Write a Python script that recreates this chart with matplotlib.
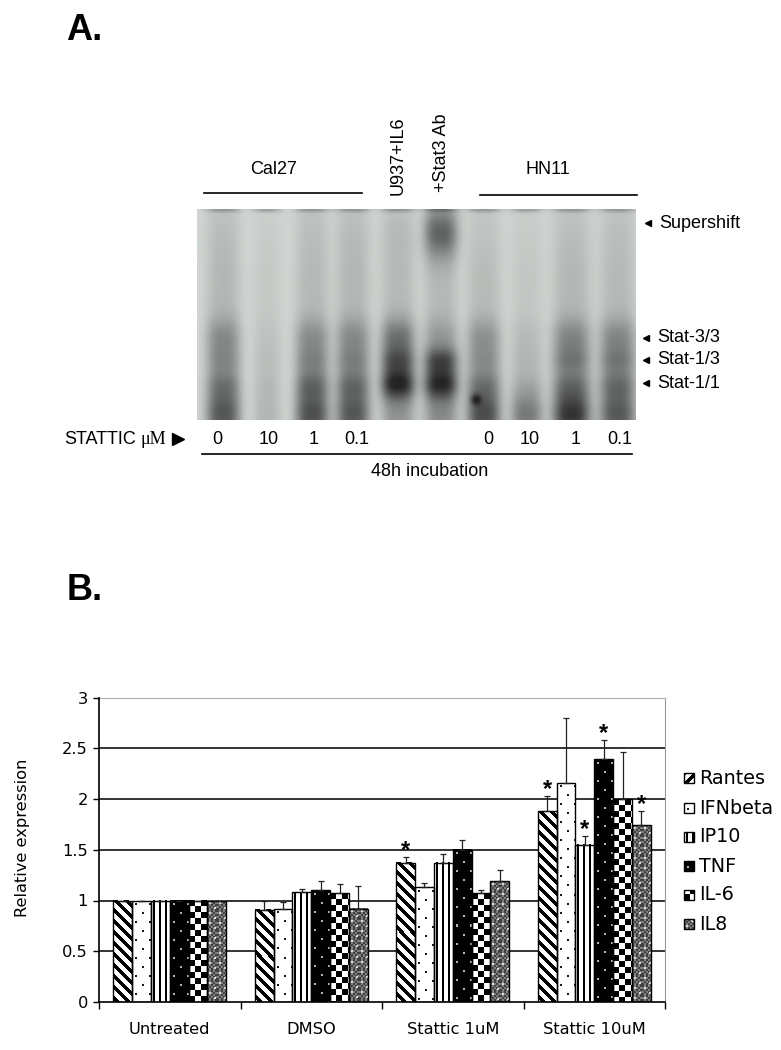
import numpy as np
import matplotlib
matplotlib.use("Agg")
import matplotlib.pyplot as plt
from matplotlib.patches import Rectangle

W, H = 781, 1050

# bar chart values
groups = ["Untreated", "DMSO", "Stattic 1uM", "Stattic 10uM"]
genes = ["Rantes", "IFNbeta", "IP10", "TNF", "IL-6", "IL8"]
rantes = [1.0, 0.91, 1.37, 1.88]
ifnbeta = [1.0, 0.92, 1.13, 2.16]
ip10 = [1.0, 1.08, 1.37, 1.55]
tnf = [1.0, 1.10, 1.50, 2.39]
il6 = [1.0, 1.07, 1.07, 2.00]
il8 = [1.0, 0.92, 1.19, 1.74]
rantes_err = [0, 0.09, 0.06, 0.15]
ifnbeta_err = [0, 0.07, 0.04, 0.64]
ip10_err = [0, 0.03, 0.09, 0.09]
tnf_err = [0, 0.09, 0.10, 0.19]
il6_err = [0, 0.09, 0.03, 0.46]
il8_err = [0, 0.22, 0.11, 0.14]
# (gene index, group index) of the bars with an asterisk
stars = [(0, 2), (0, 3), (2, 3), (3, 3), (5, 3)]

# gel lanes: strength of each band, per lane
lane_x = [223, 267, 312, 353, 398, 441, 484, 527, 572, 618]
lane_w = [17, 14, 17, 17, 17, 17, 17, 16, 19, 18]
band_y = [338, 360, 383, 414]
band_h = [20, 13, 16, 24]
stat33 = [0.30, 0.05, 0.30, 0.30, 0.48, 0.22, 0.28, 0.08, 0.34, 0.34]
stat13 = [0.20, 0.05, 0.24, 0.24, 0.50, 0.62, 0.20, 0.08, 0.30, 0.30]
stat11 = [0.34, 0.08, 0.42, 0.40, 0.95, 0.90, 0.36, 0.12, 0.36, 0.40]
bottom = [0.62, 0.12, 0.68, 0.62, 0.24, 0.30, 0.72, 0.50, 0.85, 0.62]
smear = [0.13, 0.05, 0.12, 0.13, 0.12, 0.12, 0.11, 0.06, 0.13, 0.12]
shift = [0.02, 0.00, 0.02, 0.03, 0.05, 0.62, 0.00, 0.00, 0.01, 0.02]

# gel text
dose_labels = ["0", "10", "1", "0.1", "0", "10", "1", "0.1"]
dose_x = [217, 268.5, 314, 357, 488.5, 530, 576, 620]
band_names = ["Supershift", "Stat-3/3", "Stat-1/3", "Stat-1/1"]
band_label_y = [223, 338, 360, 383]
band_label_x = [659, 657, 657, 657]


def tile_for(name):
    """Одна ячейка штриховки (серый 0..1), размер в пикселях."""
    if name == "Rantes":
        y, x = np.mgrid[0:11, 0:11]
        return np.where((x - y) % 11 < 5, 0.0, 1.0)
    if name == "IFNbeta":
        t = np.ones((18, 14))
        t[3:5, 3:5] = 0.1
        t[12:14, 10:12] = 0.1
        return t
    if name == "IP10":
        t = np.ones((6, 6))
        t[:, 2:4] = 0.0
        return t
    if name == "TNF":
        t = np.zeros((18, 14))
        t[3:5, 3:5] = 0.7
        t[12:14, 10:12] = 0.7
        return t
    if name == "IL-6":
        y, x = np.mgrid[0:12, 0:12]
        return np.where((x // 6 + y // 6) % 2 == 0, 0.0, 1.0)
    # IL8
    y, x = np.mgrid[0:10, 0:10]
    t = np.where((x // 2 + y // 2) % 2 == 0, 0.25, 0.5)
    t[2:4, 2:4] = 0.85
    t[7:9, 7:9] = 0.85
    return t


def fill_pattern(ax, rect, name):
    """Заливает прямоугольник штриховкой один к одному по пикселям."""
    box = rect.get_window_extent()
    ny, nx = max(int(round(box.height)), 1), max(int(round(box.width)), 1)
    tile = tile_for(name)
    reps = (ny // tile.shape[0] + 1, nx // tile.shape[1] + 1)
    img = np.tile(tile, reps)[:ny, :nx]
    xlim, ylim = ax.get_xlim(), ax.get_ylim()
    x0, y0 = rect.get_x(), rect.get_y()
    x1, y1 = x0 + rect.get_width(), y0 + rect.get_height()
    ax.imshow(img, cmap="gray", vmin=0, vmax=1, aspect="auto", origin="upper",
              extent=(x0, x1, min(y0, y1), max(y0, y1)),
              interpolation="nearest", zorder=2)
    ax.set_xlim(xlim)
    ax.set_ylim(ylim)


def make_gel(x0, x1, y0, y1):
    yy, xx = np.mgrid[y0:y1, x0:x1].astype(float)
    dark = np.zeros_like(xx)
    for i, cx in enumerate(lane_x):
        prof = np.exp(-np.abs((xx - cx) / lane_w[i]) ** 3)
        v = smear[i] * np.clip((yy - 209) / 90 + 0.8, 0, 1.5)
        strengths = [stat33[i], stat13[i], stat11[i], bottom[i]]
        for s, by, bh in zip(strengths, band_y, band_h):
            v = v + s * np.exp(-((yy - by) / bh) ** 2)
        v = v + shift[i] * np.exp(-((yy - 232) / 26) ** 2)
        v = v + 0.3 * np.exp(-((yy - 209) / 3) ** 2)
        dark += prof * v
    # тёмное пятно в первой дорожке HN11
    dark += 0.5 * np.exp(-((xx - 476) ** 2 + (yy - 399) ** 2) / 30)
    gray = 0.83 - 0.60 * np.clip(dark, 0, 1.15)
    return np.dstack([gray * 0.985, gray * 1.01, gray * 0.995]).clip(0, 1)


fig = plt.figure(figsize=(W / 100, H / 100), dpi=100, facecolor="white")

# ---- B: bar chart ----
ax = fig.add_axes([99 / W, 1 - 1002 / H, 566 / W, 304.5 / H])
ax.set_xlim(0, 4)
ax.set_ylim(0, 3)
series = [rantes, ifnbeta, ip10, tnf, il6, il8]
errors = [rantes_err, ifnbeta_err, ip10_err, tnf_err, il6_err, il8_err]
bar_w = 0.8 / 6
xs = np.arange(len(groups))
fig.canvas.draw()
for k, (name, vals, errs) in enumerate(zip(genes, series, errors)):
    pos = xs + 0.1 + bar_w * (k + 0.5)
    bars = ax.bar(pos, vals, width=bar_w, facecolor="none", edgecolor="black",
                  linewidth=1.0, zorder=3)
    for b in bars:
        fill_pattern(ax, b, name)
    ax.errorbar(pos, vals, yerr=[np.zeros(4), errs], fmt="none", ecolor="#222222",
                elinewidth=0.9, capsize=2.5, capthick=0.9, zorder=4)
    for gene_i, group_i in stars:
        if gene_i == k:
            ax.text(pos[group_i], vals[group_i] + errs[group_i] - 0.05, "*",
                    ha="center", va="bottom", fontsize=17, fontweight="bold",
                    family="Liberation Sans", zorder=5)

ax.set_yticks(np.arange(0, 3.5, 0.5))
ax.set_yticklabels(["0", "0.5", "1", "1.5", "2", "2.5", "3"], fontsize=11.7)
ax.set_xticks(np.arange(0, 5))
ax.set_xticklabels([])
ax.tick_params(axis="y", length=4, width=1, pad=4)
ax.tick_params(axis="x", length=5, width=1)
for v in [0.5, 1, 1.5, 2, 2.5]:
    ax.axhline(v, color="#333333", linewidth=1.4, zorder=1)
ax.axhline(3, color="#999999", linewidth=1.2, zorder=1)
for side in ["left", "bottom"]:
    ax.spines[side].set_linewidth(1.2)
ax.spines["top"].set_visible(False)
ax.spines["right"].set_color("#999999")
for i, g in enumerate(groups):
    ax.text(i + 0.5, -0.27, g, ha="center", va="center", fontsize=11.7)
ax.set_ylabel("Relative expression", fontsize=11.7)
ax.yaxis.set_label_coords((30 - 99) / 566, (1002 - 838) / 304.5)

# ---- A: gel ----
gel_ax = fig.add_axes([197.5 / W, 1 - 420 / H, 439 / W, 211 / H])
gel_ax.imshow(make_gel(197, 637, 209, 420), aspect="auto", interpolation="bilinear")
gel_ax.axis("off")

# всё остальное в пикселях картинки
over = fig.add_axes([0, 0, 1, 1], facecolor="none")
over.set_xlim(0, W)
over.set_ylim(H, 0)
over.axis("off")
arial = "Liberation Sans"

over.text(66, 30.5, "A.", fontsize=26, fontweight="bold", family=arial, va="center")
over.text(67, 590, "B.", fontsize=26, fontweight="bold", family=arial, va="center")

over.text(274, 170, "Cal27", fontsize=13, family=arial, ha="center", va="center")
over.text(548, 170, "HN11", fontsize=13, family=arial, ha="center", va="center")
over.plot([204, 361.5], [193, 193], color="black", lw=1.2)
over.plot([480, 637], [195, 195], color="black", lw=1.2)
over.text(398, 156, "U937+IL6", fontsize=13, family=arial, rotation=90,
          ha="center", va="center")
over.text(441, 153, "+Stat3 Ab", fontsize=13, family=arial, rotation=90,
          ha="center", va="center")

for name, ty, tx in zip(band_names, band_label_y, band_label_x):
    over.plot([tx - 11], [ty], marker="<", color="black", ms=5, ls="none")
    over.text(tx, ty, name, fontsize=13, family=arial, va="center")

over.text(64, 439, "STATTIC", fontsize=13, family=arial, va="center")
over.text(141, 439, "\u03bcM", fontsize=13, family="Liberation Serif", va="center")
over.plot([178], [439], marker=">", color="black", ms=9, ls="none")
for lab, dx in zip(dose_labels, dose_x):
    over.text(dx, 439, lab, fontsize=13, family=arial, ha="center", va="center")
over.plot([202, 632], [454, 454], color="black", lw=1.2)
over.text(430, 472, "48h incubation", fontsize=13, family=arial, ha="center", va="center")

# ---- легенда ----
legend_y = [778, 808, 837, 866, 895, 924]
fig.canvas.draw()
for name, ly in zip(genes, legend_y):
    key = Rectangle((683.5, ly - 5), 10, 10, facecolor="none", edgecolor="black",
                    linewidth=1.0, zorder=3)
    over.add_patch(key)
    fill_pattern(over, key, name)
    over.text(699, ly, name, fontsize=13.8, va="center")
over.set_ylim(H, 0)

fig.savefig("out.png", dpi=100, facecolor="white")
